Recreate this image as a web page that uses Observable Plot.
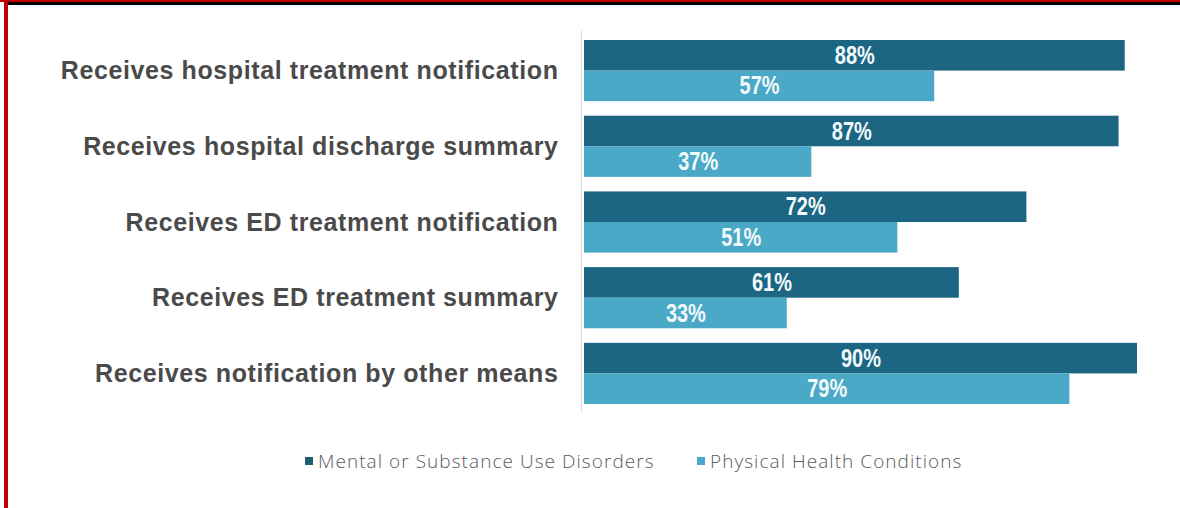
<!DOCTYPE html>
<html>
<head>
<meta charset="utf-8">
<script src="https://cdn.jsdelivr.net/npm/d3@7"></script>
<script src="https://cdn.jsdelivr.net/npm/@observablehq/plot@0.6"></script>
<style>
  html, body { margin: 0; padding: 0; background: #fff; }
  #wrap { position: relative; width: 1180px; height: 508px; overflow: hidden; background: #fff; }
  #bTop1 { position: absolute; left: 0; top: 0; width: 1180px; height: 2px; background: #c00000; }
  #bTop2 { position: absolute; left: 4px; top: 2px; width: 1176px; height: 3px; background: #000; }
  #bLeft { position: absolute; left: 4px; top: 0; width: 4px; height: 508px; background: #c00000; }
  #chart { position: absolute; left: 0; top: 0; }
  #chart svg g[aria-label="fy-axis tick label"] {
    font-family: "Liberation Sans", Arial, sans-serif;
    font-weight: bold;
    font-size: 25px;
    letter-spacing: 0.6px;
    fill: #4a4a4a;
  }
  #legend { position: absolute; top: 450px; left: 0; width: 1180px; height: 22px;
    font-family: "Open Sans", sans-serif; font-weight: 300; font-size: 19px; letter-spacing: 1.05px; color: #5a5a5a; }
  .item { position: absolute; top: 0; display: flex; align-items: center; height: 22px; white-space: nowrap; }
  .sw { width: 8px; height: 8px; margin-right: 5px; }
</style>
</head>
<body>
<div id="wrap">
  <div id="chart"></div>
  <div id="legend"></div>
  <div id="bTop1"></div>
  <div id="bTop2"></div>
  <div id="bLeft"></div>
</div>
<script>
const categories = [
  "Receives hospital treatment notification",
  "Receives hospital discharge summary",
  "Receives ED treatment notification",
  "Receives ED treatment summary",
  "Receives notification by other means"
];
const seriesNames = ["Mental or Substance Use Disorders", "Physical Health Conditions"];
const mentalValues = [88, 87, 72, 61, 90];
const physicalValues = [57, 37, 51, 33, 79];
const seriesColors = ["#1c6583", "#4aa9c6"];
const legendColors = ["#1d5e72", "#4aa9c6"];

const data = [];
categories.forEach((c, i) => {
  data.push({category: c, series: seriesNames[0], value: mentalValues[i]});
  data.push({category: c, series: seriesNames[1], value: physicalValues[i]});
});

const chart = Plot.plot({
  width: 1180,
  height: 420,
  marginLeft: 584,
  marginRight: 43,
  marginTop: 40,
  marginBottom: 16,
  style: {background: "transparent"},
  x: {domain: [0, 90], axis: null},
  y: {domain: seriesNames, axis: null, padding: 0, round: false},
  fy: {domain: categories, label: null, padding: 0.192, round: false, tickSize: 0, tickPadding: 26},
  color: {domain: seriesNames, range: seriesColors},
  marks: [
    Plot.barX(data, {fy: "category", y: "series", x: "value", fill: "series"}),
    Plot.ruleX([0], {stroke: "#dcdcdc", strokeWidth: 1.2, dx: -3, insetTop: -9.5, insetBottom: -7.5}),
    Plot.text(data, {
      fy: "category", y: "series",
      x: d => d.value / 2,
      text: d => d.value + "%",
      fill: "#f2fafc",
      fontSize: 25,
      fontWeight: "bold",
      fontFamily: "'Liberation Sans Narrow', 'Liberation Sans', Arial, sans-serif",
      className: "vlabel"
    })
  ]
});
document.getElementById("chart").appendChild(chart);

// condense the value labels horizontally (narrow bold look)
chart.querySelectorAll(".vlabel text").forEach(t => {
  const w = t.getComputedTextLength();
  t.setAttribute("textLength", (w * 0.8).toFixed(1));
  t.setAttribute("lengthAdjust", "spacingAndGlyphs");
});

const legend = document.getElementById("legend");
const legendLeft = [305, 697];
seriesNames.forEach((name, i) => {
  const item = document.createElement("div");
  item.className = "item";
  item.style.left = legendLeft[i] + "px";
  const sw = document.createElement("span");
  sw.className = "sw";
  sw.style.background = legendColors[i];
  const label = document.createElement("span");
  label.textContent = name;
  item.appendChild(sw);
  item.appendChild(label);
  legend.appendChild(item);
});
</script>
</body>
</html>
